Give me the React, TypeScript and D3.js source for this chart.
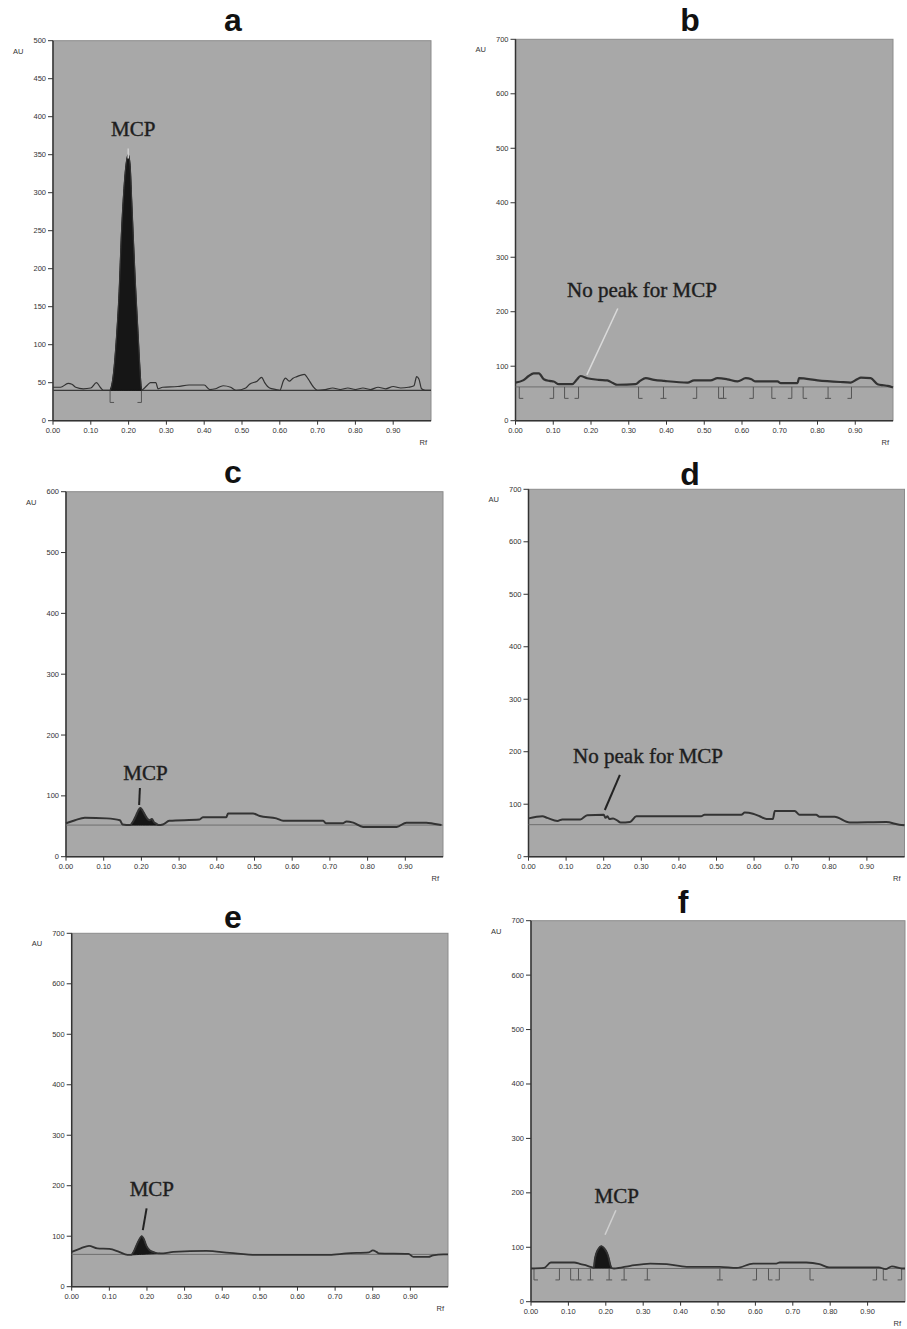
import * as d3 from "d3";

// Rf tick labels shared by every densitogram
const rfTicks = [0, 0.1, 0.2, 0.3, 0.4, 0.5, 0.6, 0.7, 0.8, 0.9];

const panelLetters = ["a", "b", "c", "d", "e", "f"];
const auMax = [500, 700, 600, 700, 700, 700];
const auStep = [50, 100, 100, 100, 100, 100];
const baselineAU = [40, 62, 52, 61, 64, 61];

// scanned traces, [Rf, AU]
const traceA = [
  [0.0, 44], [0.02, 44], [0.04, 49], [0.05, 48], [0.06, 44], [0.08, 42], [0.1, 43], [0.115, 50],
  [0.125, 44], [0.133, 40], [0.151, 40], [0.234, 40], [0.24, 42], [0.25, 47], [0.258, 50],
  [0.272, 50], [0.278, 42], [0.29, 44], [0.33, 45], [0.36, 47], [0.4, 47], [0.415, 41], [0.43, 42],
  [0.45, 46], [0.47, 44], [0.485, 40], [0.51, 43], [0.52, 48], [0.54, 52], [0.552, 57], [0.56, 50],
  [0.573, 43], [0.59, 41], [0.6, 40], [0.61, 53], [0.615, 56], [0.625, 52], [0.635, 56],
  [0.645, 58], [0.665, 61], [0.675, 55], [0.688, 45], [0.7, 40], [0.72, 41], [0.74, 43],
  [0.76, 41], [0.78, 43], [0.8, 41], [0.82, 43], [0.84, 41], [0.86, 44], [0.88, 42], [0.9, 45],
  [0.92, 43], [0.94, 44], [0.955, 46], [0.962, 58], [0.968, 55], [0.975, 42], [0.985, 40], [1.0, 40],
];
const traceB = [
  [0, 70], [0.02, 74], [0.035, 82], [0.048, 87], [0.062, 87], [0.075, 76], [0.09, 73], [0.101, 72],
  [0.115, 67], [0.15, 67], [0.162, 75], [0.172, 82], [0.19, 78], [0.22, 75], [0.243, 74],
  [0.258, 69], [0.27, 66], [0.318, 67], [0.33, 73], [0.345, 78], [0.367, 75], [0.394, 73],
  [0.456, 70], [0.473, 74], [0.517, 74], [0.535, 78], [0.561, 76], [0.588, 72], [0.61, 78],
  [0.625, 76], [0.636, 72], [0.694, 72], [0.703, 69], [0.747, 69], [0.751, 78], [0.8, 74],
  [0.86, 71], [0.888, 70], [0.905, 76], [0.915, 79], [0.941, 78], [0.959, 67], [0.975, 65],
  [0.986, 64], [1.0, 61],
];
const traceC = [
  [0, 55], [0.024, 60], [0.05, 64], [0.108, 63], [0.143, 60], [0.15, 53], [0.17, 52], [0.245, 52],
  [0.257, 53], [0.274, 59], [0.354, 61], [0.363, 65], [0.425, 65], [0.43, 71], [0.496, 71],
  [0.514, 67], [0.558, 63], [0.576, 59], [0.682, 59], [0.69, 55], [0.735, 55], [0.744, 58],
  [0.762, 56], [0.788, 49], [0.877, 49], [0.903, 56], [0.956, 56], [0.975, 54], [0.996, 52],
];
const traceD = [
  [0, 73], [0.037, 77], [0.05, 74], [0.077, 68], [0.09, 71], [0.138, 71], [0.156, 79], [0.2, 80],
  [0.205, 74], [0.21, 77], [0.215, 72], [0.225, 73], [0.236, 69], [0.245, 65], [0.27, 66],
  [0.287, 77], [0.459, 77], [0.468, 80], [0.566, 80], [0.575, 84], [0.597, 82], [0.615, 77],
  [0.633, 72], [0.65, 72], [0.655, 87], [0.708, 87], [0.721, 80], [0.765, 80], [0.774, 76],
  [0.814, 76], [0.854, 65], [0.951, 66], [0.986, 61], [1.0, 60],
];
const traceE = [
  [0, 69], [0.024, 76], [0.046, 81], [0.068, 76], [0.1, 75], [0.126, 69], [0.148, 63], [0.158, 63],
  [0.235, 66], [0.243, 66], [0.27, 69], [0.358, 71], [0.42, 67], [0.49, 63], [0.685, 63],
  [0.73, 66], [0.79, 68], [0.8, 72], [0.81, 69], [0.816, 66], [0.895, 65], [0.908, 59],
  [0.948, 59], [0.96, 62], [0.988, 64], [1.0, 64],
];
const traceF = [
  [0, 61], [0.035, 62], [0.053, 72], [0.115, 72], [0.133, 69], [0.151, 66], [0.164, 63], [0.168, 62],
  [0.216, 62], [0.222, 61], [0.266, 66], [0.319, 70], [0.363, 69], [0.416, 64], [0.505, 64],
  [0.55, 62], [0.594, 70], [0.656, 70], [0.665, 72], [0.736, 72], [0.771, 69], [0.797, 63],
  [0.93, 63], [0.948, 60], [0.965, 65], [0.992, 61], [1.0, 61],
];

// integrated MCP peaks
const peakA = [
  [0.151, 40], [0.16, 62], [0.168, 110], [0.175, 170], [0.181, 246], [0.187, 300], [0.193, 336],
  [0.199, 350], [0.204, 336], [0.208, 292], [0.212, 246], [0.218, 180], [0.225, 115], [0.23, 68],
  [0.234, 40],
];
const peakC = [
  [0.17, 52], [0.178, 58], [0.186, 68], [0.192, 76], [0.197, 80], [0.203, 76], [0.21, 68],
  [0.215, 63], [0.222, 60], [0.228, 62], [0.233, 57], [0.24, 54], [0.245, 52],
];
const peakE = [
  [0.158, 63], [0.165, 70], [0.172, 82], [0.18, 94], [0.186, 100], [0.192, 94], [0.198, 82],
  [0.205, 74], [0.212, 70], [0.22, 68], [0.23, 66], [0.235, 66],
];
const peakF = [
  [0.168, 62], [0.17, 75], [0.174, 88], [0.18, 97], [0.188, 102], [0.196, 98], [0.203, 90],
  [0.208, 80], [0.212, 68], [0.216, 62],
];

// peak start/end markers: L = "[", R = "]", T = "⊥"
const marksA = [[0.151, "L"], [0.234, "R"]];
const marksB = [
  [0.01, "L"], [0.101, "R"], [0.13, "L"], [0.167, "R"], [0.326, "L"], [0.392, "T"], [0.48, "R"],
  [0.538, "L"], [0.551, "T"], [0.63, "R"], [0.679, "L"], [0.732, "R"], [0.762, "L"], [0.828, "T"],
  [0.89, "R"],
];
const marksF = [
  [0.008, "L"], [0.076, "R"], [0.106, "L"], [0.127, "T"], [0.159, "T"], [0.209, "T"], [0.249, "T"],
  [0.311, "T"], [0.505, "T"], [0.603, "R"], [0.635, "L"], [0.664, "R"], [0.746, "L"], [0.924, "R"],
  [0.942, "L"], [0.991, "R"],
];
const markBottomAU = [24, 41, 0, 0, 0, 40];

const annotationText = ["MCP", "No peak for MCP", "MCP", "No peak for MCP", "MCP", "MCP"];
const annotationAt = [[0.212, 375], [0.335, 227], [0.211, 126], [0.318, 179], [0.213, 180], [0.229, 181]];
const pointers = [
  [0.199, 345, 0.199, 358],
  [0.271, 206, 0.189, 84],
  [0.196, 113, 0.194, 85],
  [0.243, 156, 0.203, 89],
  [0.199, 155, 0.189, 112],
  [0.227, 168, 0.198, 123],
];

const traces = [traceA, traceB, traceC, traceD, traceE, traceF];
const peaks = [peakA, null, peakC, null, peakE, peakF];
const marks = [marksA, marksB, null, null, null, marksF];

// page layout (pixels) for each panel: plot left/right, top/bottom
const boxes = [
  { l: 53, r: 431, t: 40.7, b: 420.7, titleX: 233, titleY: 31 },
  { l: 515.5, r: 893, t: 39.3, b: 420.7, titleX: 690, titleY: 31 },
  { l: 66, r: 443, t: 491.7, b: 856.7, titleX: 233, titleY: 483 },
  { l: 528.5, r: 904.5, t: 489.3, b: 856.7, titleX: 690, titleY: 485 },
  { l: 71.7, r: 448, t: 933.3, b: 1286.7, titleX: 233, titleY: 928 },
  { l: 531, r: 905, t: 920.7, b: 1301.7, titleX: 683, titleY: 913 },
];
const traceWidth = [1.2, 2.2, 2, 2, 1.8, 1.8];
const pointerColor = ["#d0d0d0", "#dadada", "#222", "#222", "#222", "#d0d0d0"];

const sans = "'Liberation Sans', Arial, sans-serif";
const serif = "'Liberation Serif', 'Times New Roman', serif";

function Panel({ i }: { i: number }) {
  const box = boxes[i];
  const x = d3.scaleLinear().domain([0, 1]).range([box.l, box.r]);
  const y = d3.scaleLinear().domain([0, auMax[i]]).range([box.b, box.t]);
  const line = d3
    .line<number[]>()
    .x((d) => x(d[0]))
    .y((d) => y(d[1]))
    .curve(d3.curveMonotoneX);

  const peak = peaks[i];
  let full = traces[i];
  let peakPath = null;
  if (peak) {
    full = [...traces[i], ...peak].sort((p, q) => p[0] - q[0]);
    const first = peak[0];
    const last = peak[peak.length - 1];
    const base = d3.scaleLinear().domain([first[0], last[0]]).range([first[1], last[1]]);
    const area = d3
      .area<number[]>()
      .x((d) => x(d[0]))
      .y0((d) => y(base(d[0])))
      .y1((d) => y(d[1]))
      .curve(d3.curveMonotoneX);
    peakPath = area(peak);
  }

  const yTicks = d3.range(0, auMax[i] + 1, auStep[i]);
  const bl = baselineAU[i];
  const mk = marks[i];
  const ptr = pointers[i];

  return (
    <g>
      <text x={box.titleX} y={box.titleY} textAnchor="middle" fontFamily={sans} fontWeight="bold" fontSize={32} fill="#111">
        {panelLetters[i]}
      </text>
      <rect x={box.l} y={box.t} width={box.r - box.l} height={box.b - box.t} fill="#a8a8a8" stroke="#8c8c8c" strokeWidth={1} />
      <line x1={box.l} x2={box.l} y1={box.t} y2={box.b} stroke="#333" strokeWidth={1.5} />
      <line x1={box.l} x2={box.r} y1={box.b} y2={box.b} stroke="#333" strokeWidth={1.5} />
      {yTicks.map((t) => (
        <g key={t}>
          <line x1={box.l - 5} x2={box.l} y1={y(t)} y2={y(t)} stroke="#333" strokeWidth={1} />
          <text x={box.l - 7} y={y(t) + 2.5} textAnchor="end" fontFamily={sans} fontSize={7.5} fill="#333">
            {t}
          </text>
        </g>
      ))}
      {rfTicks.map((t) => (
        <g key={t}>
          <line x1={x(t)} x2={x(t)} y1={box.b} y2={box.b + 4} stroke="#333" strokeWidth={1} />
          <text x={x(t)} y={box.b + 12} textAnchor="middle" fontFamily={sans} fontSize={7.5} fill="#333">
            {d3.format(".2f")(t)}
          </text>
        </g>
      ))}
      <text x={box.l - 40} y={box.t + 13} fontFamily={sans} fontSize={7.5} fill="#333">
        AU
      </text>
      <text x={box.r - 4} y={box.b + 24} textAnchor="end" fontFamily={sans} fontSize={7.5} fill="#333">
        Rf
      </text>

      <line x1={x(0)} x2={x(1)} y1={y(bl)} y2={y(bl)} stroke={i === 0 ? "#3a3a3a" : "#6e6e6e"} strokeWidth={i === 0 ? 1.2 : 1} />
      {mk &&
        mk.map(([rf, kind], k) => {
          const px = x(rf as number);
          const y1 = y(bl);
          const y2 = y(markBottomAU[i]);
          const foot = kind === "L" ? [px, px + 4] : kind === "R" ? [px - 4, px] : [px - 3, px + 3];
          return (
            <g key={k} stroke="#555" strokeWidth={1}>
              <line x1={px} x2={px} y1={y1} y2={y2} />
              <line x1={foot[0]} x2={foot[1]} y1={y2} y2={y2} />
            </g>
          );
        })}
      {peakPath && <path d={peakPath} fill="#161616" stroke="#161616" strokeWidth={1} />}
      <path d={line(full) ?? ""} fill="none" stroke="#333" strokeWidth={traceWidth[i]} strokeLinejoin="round" />

      <line x1={x(ptr[0])} y1={y(ptr[1])} x2={x(ptr[2])} y2={y(ptr[3])} stroke={pointerColor[i]} strokeWidth={pointerColor[i] === "#222" ? 2 : 1.5} />
      <text x={x(annotationAt[i][0])} y={y(annotationAt[i][1])} textAnchor="middle" fontFamily={serif} fontSize={21} fill="#1e1e1e" stroke="#1e1e1e" strokeWidth={0.4}>
        {annotationText[i]}
      </text>
    </g>
  );
}

export default function App() {
  return (
    <svg width={907} height={1329} style={{ position: "absolute", left: 0, top: 0, background: "#fff" }}>
      {panelLetters.map((_, i) => (
        <Panel key={i} i={i} />
      ))}
    </svg>
  );
}
